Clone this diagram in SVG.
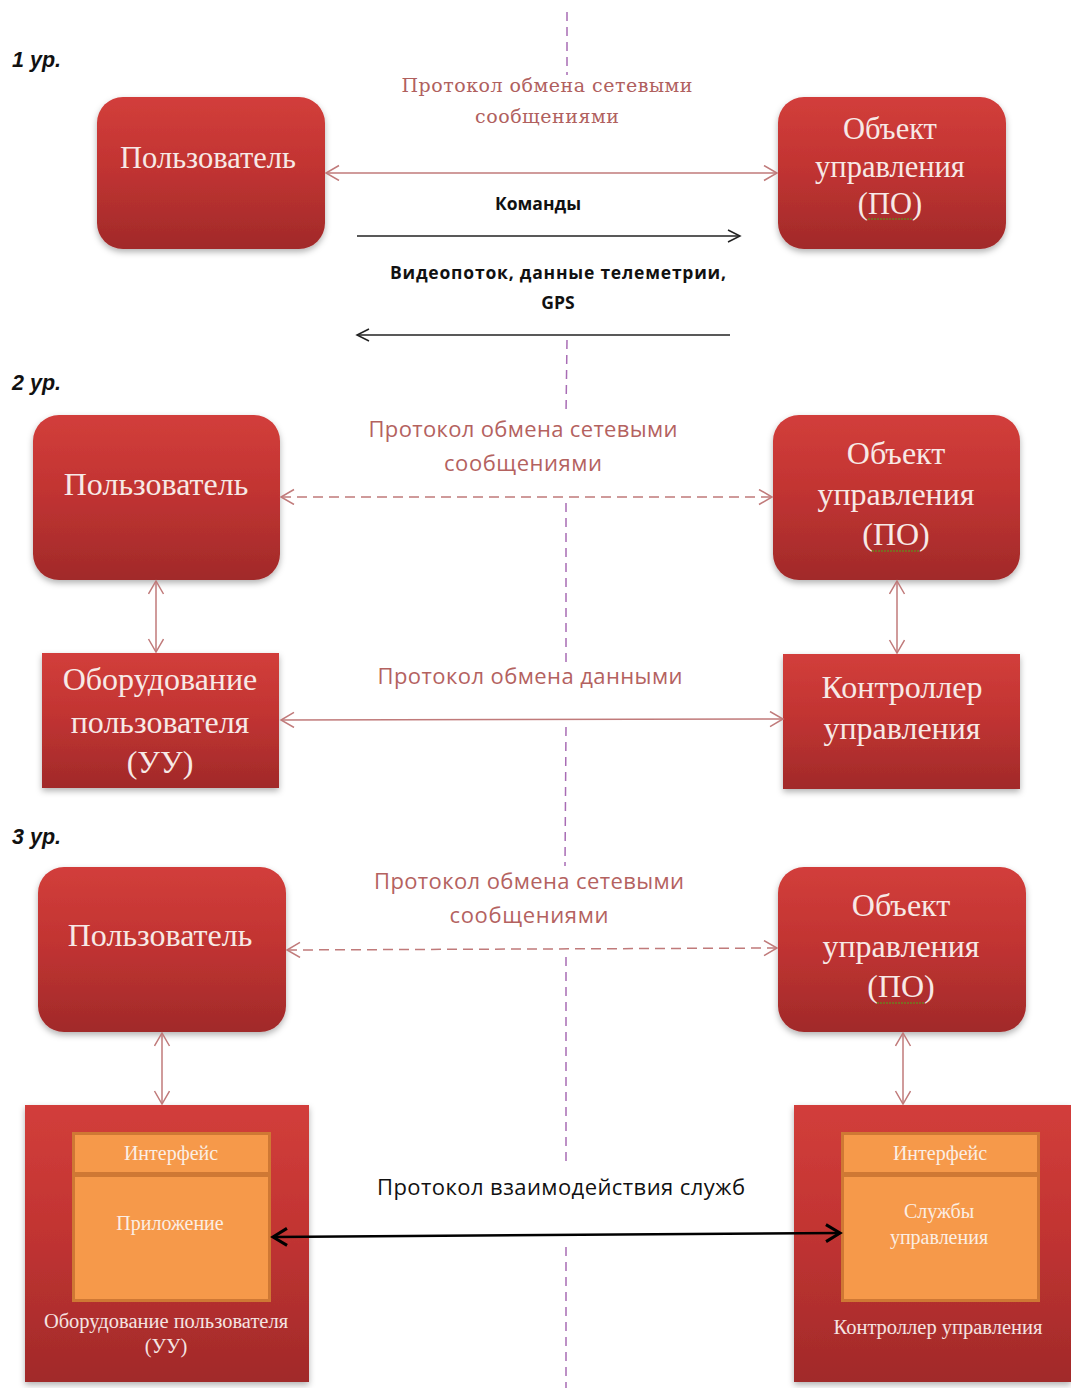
<svg xmlns="http://www.w3.org/2000/svg" width="1071" height="1388" viewBox="0 0 1071 1388">
<style>
.lvl{font-family:"Liberation Sans",Arial,sans-serif;font-weight:bold;font-style:italic;font-size:21.5px;fill:#111}
.bx{font-family:"Liberation Serif","Times New Roman",serif;fill:#f7e9e6;text-anchor:middle}
.b28{font-size:30.5px}
.b31{font-size:32px}
.sm{font-family:"Liberation Serif","Times New Roman",serif;font-size:20px;fill:#fbeee4;text-anchor:middle}
.sml{font-family:"Liberation Serif","Times New Roman",serif;font-size:20.5px;fill:#f5e4e2;text-anchor:middle}
.lbs{font-family:"DejaVu Serif",serif;font-size:19px;fill:#b0605e;text-anchor:middle}
.lbn{font-family:"Open Sans","Liberation Sans",sans-serif;font-size:22px;fill:#b4625f;text-anchor:middle}
.blk{font-family:"Open Sans","Liberation Sans",sans-serif;font-weight:bold;font-size:17.5px;fill:#111;text-anchor:middle}
.blkn{font-family:"Open Sans","Liberation Sans",sans-serif;font-size:22px;fill:#111;text-anchor:middle}
.rose{stroke:#c07a7a;stroke-width:1.5;fill:none}
.dash{stroke-dasharray:10 6}
.axis{stroke:#a86cb4;stroke-width:1.5;stroke-dasharray:9 6;fill:none}
.orf{fill:#cf7834}
.orb{fill:#f6994a}
.spell{stroke:#7c6a22;stroke-width:2;stroke-dasharray:2 1;fill:none}
</style>
<defs>
<linearGradient id="g" x1="0" y1="0" x2="0" y2="1">
<stop offset="0" stop-color="#d23e3b"/>
<stop offset="0.45" stop-color="#c23432"/>
<stop offset="1" stop-color="#a12a2a"/>
</linearGradient>
<filter id="sh" x="-10%" y="-10%" width="120%" height="125%">
<feDropShadow dx="0" dy="3" stdDeviation="3" flood-color="#000" flood-opacity="0.3"/>
</filter>
<marker id="ar" markerUnits="userSpaceOnUse" markerWidth="18" markerHeight="18" refX="14" refY="8" orient="auto-start-reverse">
<path d="M1,0.5 L14,8 L1,15.5" fill="none" stroke="#c07a7a" stroke-width="1.5"/>
</marker>
<marker id="ak" markerUnits="userSpaceOnUse" markerWidth="16" markerHeight="16" refX="13" refY="7" orient="auto-start-reverse">
<path d="M1,1 L13,7 L1,13" fill="none" stroke="#222" stroke-width="1.5"/>
</marker>
<marker id="ak2" markerUnits="userSpaceOnUse" markerWidth="20" markerHeight="22" refX="16" refY="10" orient="auto-start-reverse">
<path d="M2,1.5 L16,10 L2,18.5" fill="none" stroke="#000" stroke-width="3"/>
</marker>
</defs>
<rect width="1071" height="1388" fill="#fff"/>

<g id="axis">
<line class="axis" x1="567" y1="12" x2="567" y2="75"/>
<line class="axis" x1="567" y1="340" x2="566" y2="414"/>
<line class="axis" x1="566" y1="503" x2="566" y2="662"/>
<line class="axis" x1="566" y1="727" x2="565" y2="866"/>
<line class="axis" x1="566" y1="957" x2="566" y2="1162"/>
<line class="axis" x1="566" y1="1247" x2="566" y2="1388"/>
</g>

<g id="levels">
<text class="lvl" x="12" y="67">1 ур.</text>
<text class="lvl" x="12" y="390">2 ур.</text>
<text class="lvl" x="12" y="844">3 ур.</text>
</g>

<g id="labels">
<text class="lbs" x="547" y="92" textLength="291">Протокол обмена сетевыми</text>
<text class="lbs" x="547" y="123" textLength="144">сообщениями</text>
<text class="blk" x="538" y="210">Команды</text>
<text class="blk" x="558" y="279" textLength="336">Видеопоток, данные телеметрии,</text>
<text class="blk" x="558" y="309">GPS</text>
<text class="lbn" x="523" y="437" textLength="309">Протокол обмена сетевыми</text>
<text class="lbn" x="523" y="471" textLength="158">сообщениями</text>
<text class="lbn" x="530" y="684" textLength="305">Протокол обмена данными</text>
<text class="lbn" x="529" y="889" textLength="310">Протокол обмена сетевыми</text>
<text class="lbn" x="529" y="923" textLength="159">сообщениями</text>
<text class="blkn" x="561" y="1195" textLength="368">Протокол взаимодействия служб</text>
</g>

<g id="n1-user">
<rect x="97" y="97" width="228" height="152" rx="26" fill="url(#g)" filter="url(#sh)"/>
<text class="bx b28" x="208" y="168">Пользователь</text>
</g>
<g id="n1-object">
<rect x="778" y="97" width="228" height="152" rx="26" fill="url(#g)" filter="url(#sh)"/>
<text class="bx b28" x="890" y="139">Объект</text>
<text class="bx b28" x="890" y="177">управления</text>
<text class="bx b28" x="890" y="214">(ПО)</text>
<line class="spell" x1="868" y1="219" x2="912" y2="219"/>
</g>

<g id="n2-user">
<rect x="33" y="415" width="247" height="165" rx="26" fill="url(#g)" filter="url(#sh)"/>
<text class="bx b31" x="156" y="495">Пользователь</text>
</g>
<g id="n2-object">
<rect x="773" y="415" width="247" height="165" rx="26" fill="url(#g)" filter="url(#sh)"/>
<text class="bx b31" x="896" y="464">Объект</text>
<text class="bx b31" x="896" y="505">управления</text>
<text class="bx b31" x="896" y="545">(ПО)</text>
<line class="spell" x1="872" y1="551" x2="920" y2="551"/>
</g>
<g id="n2-ue">
<rect x="42" y="653" width="237" height="135" fill="url(#g)" filter="url(#sh)"/>
<text class="bx b31" x="160" y="690">Оборудование</text>
<text class="bx b31" x="160" y="733">пользователя</text>
<text class="bx b31" x="160" y="773">(УУ)</text>
</g>
<g id="n2-ctrl">
<rect x="783" y="654" width="237" height="135" fill="url(#g)" filter="url(#sh)"/>
<text class="bx b31" x="902" y="698">Контроллер</text>
<text class="bx b31" x="902" y="739">управления</text>
</g>

<g id="n3-user">
<rect x="38" y="867" width="248" height="165" rx="26" fill="url(#g)" filter="url(#sh)"/>
<text class="bx b31" x="160" y="946">Пользователь</text>
</g>
<g id="n3-object">
<rect x="778" y="867" width="248" height="165" rx="26" fill="url(#g)" filter="url(#sh)"/>
<text class="bx b31" x="901" y="916">Объект</text>
<text class="bx b31" x="901" y="957">управления</text>
<text class="bx b31" x="901" y="997">(ПО)</text>
<line class="spell" x1="877" y1="1003" x2="925" y2="1003"/>
</g>

<g id="n3-ue">
<rect x="25" y="1105" width="284" height="277" fill="url(#g)" filter="url(#sh)"/>
<rect class="orf" x="72" y="1132" width="199" height="170"/>
<rect class="orb" x="75" y="1135" width="193" height="37"/>
<rect class="orb" x="75" y="1177" width="193" height="122"/>
<text class="sm" x="171" y="1160">Интерфейс</text>
<text class="sm" x="170" y="1230">Приложение</text>
<text class="sml" x="166" y="1328">Оборудование пользователя</text>
<text class="sml" x="166" y="1353">(УУ)</text>
</g>

<g id="n3-ctrl">
<rect x="794" y="1105" width="277" height="277" fill="url(#g)" filter="url(#sh)"/>
<rect class="orf" x="841" y="1132" width="199" height="170"/>
<rect class="orb" x="844" y="1135" width="193" height="37"/>
<rect class="orb" x="844" y="1177" width="193" height="122"/>
<text class="sm" x="940" y="1160">Интерфейс</text>
<text class="sm" x="939" y="1218">Службы</text>
<text class="sm" x="939" y="1244">управления</text>
<text class="sml" x="938" y="1334">Контроллер управления</text>
</g>

<g id="connectors">
<line class="rose" x1="326" y1="173" x2="777" y2="173" marker-start="url(#ar)" marker-end="url(#ar)"/>
<line x1="357" y1="236" x2="740" y2="236" stroke="#222" stroke-width="1.5" marker-end="url(#ak)"/>
<line x1="730" y1="335" x2="357" y2="335" stroke="#222" stroke-width="1.5" marker-end="url(#ak)"/>
<line class="rose dash" x1="281" y1="497" x2="772" y2="497" marker-start="url(#ar)" marker-end="url(#ar)"/>
<line class="rose" x1="156" y1="581" x2="156" y2="652" marker-start="url(#ar)" marker-end="url(#ar)"/>
<line class="rose" x1="897" y1="581" x2="897" y2="653" marker-start="url(#ar)" marker-end="url(#ar)"/>
<line class="rose" x1="281" y1="720" x2="783" y2="719" marker-start="url(#ar)" marker-end="url(#ar)"/>
<line class="rose dash" x1="287" y1="950" x2="777" y2="948" marker-start="url(#ar)" marker-end="url(#ar)"/>
<line class="rose" x1="162" y1="1033" x2="162" y2="1104" marker-start="url(#ar)" marker-end="url(#ar)"/>
<line class="rose" x1="903" y1="1033" x2="903" y2="1104" marker-start="url(#ar)" marker-end="url(#ar)"/>
<line x1="273" y1="1237" x2="840" y2="1233" stroke="#000" stroke-width="2.5" marker-start="url(#ak2)" marker-end="url(#ak2)"/>
</g>
</svg>
